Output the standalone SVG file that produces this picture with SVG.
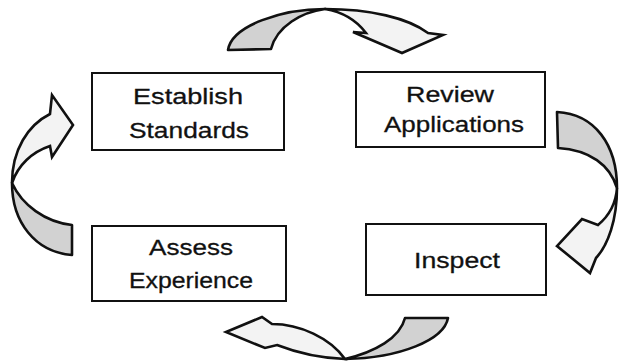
<svg xmlns="http://www.w3.org/2000/svg" width="620" height="362" viewBox="0 0 620 362">
  <style>
    .box { fill: #ffffff; stroke: #111111; stroke-width: 2; }
    .lbl { font-family: "Liberation Sans", Arial, Helvetica, sans-serif; font-size: 22px; fill: #111111; stroke: #111111; stroke-width: 0.3; text-anchor: middle; }
    .back { fill: #d2d2d2; stroke: #111111; stroke-width: 2.6; stroke-linejoin: round; }
    .front { fill: #f3f3f3; stroke: #111111; stroke-width: 2.6; stroke-linejoin: miter; }
  </style>
  <rect width="620" height="362" fill="#ffffff"/>

  <g id="connectors">
    <g id="arrow-top">
      <path class="back" d="M228,50 C232,25 283,9 325,9 C302,12 277,26 271,49 Z"/>
      <path class="front" d="M325,9 C370,9 408,18 428,33 L443,35 L402,53 L353,32 L366,33 C357,21 343,12 325,9 Z"/>
    </g>
    <g id="arrow-right">
      <path class="back" d="M557,112 C595,114 617,145 617,188 C610,165 590,150 558,148 Z"/>
      <path class="front" d="M617,188 C617,220 608,245 596,258 L590,273 L557,246 L582,219 L598,225 C610,215 616,202 617,188 Z"/>
    </g>
    <g id="arrow-bottom">
      <path class="back" d="M448,318 C444,340 400,358 345,359 C375,352 400,338 405,318 Z"/>
      <path class="front" d="M345,359 C318,358 295,352 277,345 L265,348 L226,332 L262,317 L272,324 C300,324 330,338 345,359 Z"/>
    </g>
    <g id="arrow-left">
      <path class="back" d="M72,225 C45,222 22,205 12,183 C12,222 35,252 72,255 Z"/>
      <path class="front" d="M12,183 C12,150 28,125 50,114 L52,95 L73,125 L52,157 L50,146 C32,152 18,165 12,183 Z"/>
    </g>
  </g>

  <g id="node-establish">
    <rect class="box" x="92" y="73" width="192" height="77"/>
    <text class="lbl" x="188" y="104" textLength="110" lengthAdjust="spacingAndGlyphs">Establish</text>
    <text class="lbl" x="189" y="138" textLength="120" lengthAdjust="spacingAndGlyphs">Standards</text>
  </g>
  <g id="node-review">
    <rect class="box" x="356" y="72" width="189" height="75"/>
    <text class="lbl" x="450" y="102" textLength="88" lengthAdjust="spacingAndGlyphs">Review</text>
    <text class="lbl" x="454" y="132" textLength="140" lengthAdjust="spacingAndGlyphs">Applications</text>
  </g>
  <g id="node-assess">
    <rect class="box" x="92" y="226" width="194" height="75"/>
    <text class="lbl" x="191" y="255" textLength="84" lengthAdjust="spacingAndGlyphs">Assess</text>
    <text class="lbl" x="191" y="288" textLength="124" lengthAdjust="spacingAndGlyphs">Experience</text>
  </g>
  <g id="node-inspect">
    <rect class="box" x="366" y="224" width="180" height="71"/>
    <text class="lbl" x="457" y="268" textLength="86" lengthAdjust="spacingAndGlyphs">Inspect</text>
  </g>
</svg>
